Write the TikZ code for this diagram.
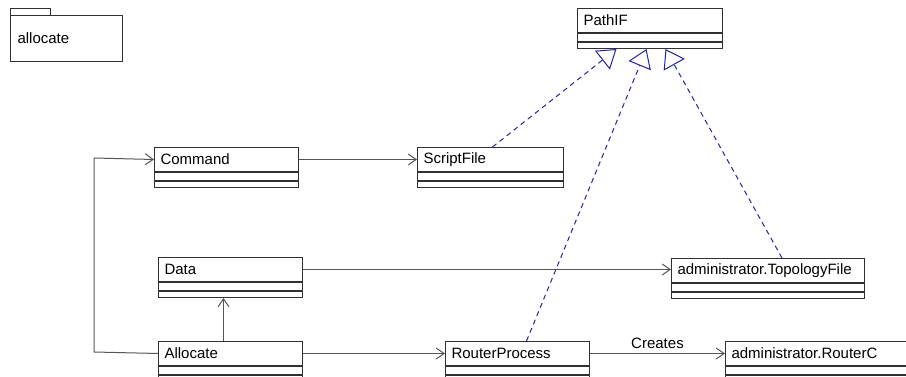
\documentclass[tikz,border=0pt]{standalone}
\usepackage{fontspec}
\setmainfont{Liberation Sans}
\usetikzlibrary{arrows.meta}
\definecolor{boxline}{HTML}{303030}
\definecolor{assocline}{HTML}{555555}
\definecolor{realline}{HTML}{2424A0}
\tikzset{
  clshead/.style={draw=boxline, line width=1pt, fill=white, anchor=north west,
    minimum height=24, inner xsep=6pt, inner ysep=0pt, align=left},
  clscomp/.style={draw=boxline, line width=1pt, fill=white, inner sep=0pt},
  assoc/.style={draw=assocline, line width=1pt, -{Straight Barb[length=8pt,width=11pt]}},
  assocplain/.style={draw=assocline, line width=1pt},
  realize/.style={draw=realline, line width=1pt, dash pattern=on 5pt off 4pt,
    -{Triangle[open,length=18pt,width=24pt]}},
  pkgbox/.style={draw=boxline, line width=1pt, inner sep=0pt},
}
% UML class: name, left x, top y, width, title
\newcommand\umlclass[5]{%
  \pgfmathsetmacro\clstw{#4-12}%
  \node[clshead, minimum width=#4, text width=\clstw pt] (#1) at (#2,#3) {#5};
  \node[clscomp, minimum width=#4, minimum height=8, anchor=north] (#1-a) at (#1.south) {};
  \node[clscomp, minimum width=#4, minimum height=6, anchor=north] (#1-o) at (#1-a.south) {};
}
\begin{document}
\begin{tikzpicture}[x=1pt, y=-1pt, font=\fontsize{15}{17}\selectfont]
\useasboundingbox (0,0) rectangle (906,377);
\fill[white] (0,0) rectangle (906,377);
\clip (0,0) rectangle (906,377);

% package
\node[pkgbox, minimum width=40, minimum height=7, anchor=north west] (pkgtab) at (10,8) {};
\node[pkgbox, minimum width=112, minimum height=46, anchor=north west,
  text width=98pt, inner xsep=7pt, align=left] (pkg) at (10,15) {\raisebox{-3pt}{allocate}};

% classes
\umlclass{pathif}{577}{8}{145}{PathIF}
\umlclass{cmd}{154}{147}{144}{Command}
\umlclass{sf}{417}{147}{146}{ScriptFile}
\umlclass{data}{158}{257}{144}{Data}
\umlclass{topo}{671}{258}{193}{administrator.TopologyFile}
\umlclass{alloc}{158}{341}{144}{Allocate}
\umlclass{rp}{445}{341}{144}{RouterProcess}
\umlclass{rc}{725}{341}{200}{administrator.RouterC}

% associations
\coordinate (bendlow) at (94,352);
\coordinate (bendhigh) at (94,158);
\draw[assocplain] (alloc.west) -- (bendlow) -- (bendhigh);
\draw[assoc] (bendhigh) -- (cmd.west);
\draw[assoc] (cmd.east) -- (sf.west);
\draw[assoc] (data.east) -- (data.east -| topo.west);
\draw[assoc] ([xshift=-7pt]alloc.north) -- ([xshift=-7pt]data-o.south);
\draw[assoc] (alloc.east) -- (rp.west);
\draw[assoc] (rp.east) -- node[above=1pt] {Creates} (rc.west);

% realizations of PathIF
\draw[realize] ([xshift=2pt]sf.north) -- ([xshift=-33.5pt]pathif-o.south);
\draw[realize] ([xshift=9pt]rp.north) -- ([xshift=-3.5pt]pathif-o.south);
\draw[realize] ([xshift=14pt]topo.north) -- ([xshift=15.5pt]pathif-o.south);
\end{tikzpicture}
\end{document}
